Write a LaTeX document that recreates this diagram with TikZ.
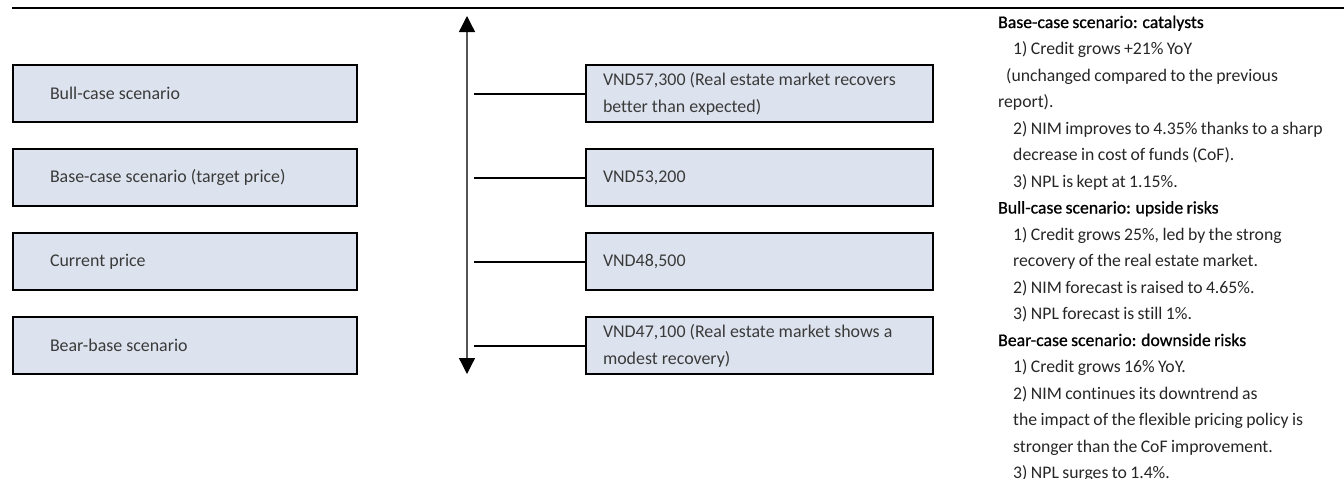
\documentclass[tikz,border=0pt]{standalone}
\usepackage{fontspec}
\setmainfont{Carlito}[Ligatures=NoCommon, WordSpace=0.85]
\newfontfamily\boxfont{Carlito}[Ligatures=NoCommon]
\newfontfamily\headfont{Carlito}[FakeBold=0.8, Ligatures=NoCommon, WordSpace=0.85]
\usetikzlibrary{arrows.meta}
\definecolor{boxfill}{RGB}{221,227,238}
\definecolor{boxtext}{RGB}{58,58,58}
\definecolor{axisgray}{RGB}{85,85,85}
\begin{document}
\begin{tikzpicture}[x=1pt,y=-1pt,
  scen/.style={draw=black, line width=2pt, fill=boxfill, text=boxtext,
    anchor=north west, minimum height=57pt, align=flush left, inner ysep=3pt,
    font=\boxfont\fontsize{17.9}{27}\selectfont},
  leftbox/.style={scen, text width=270pt, inner xsep=37pt},
  pricebox/.style={scen, text width=313pt, inner xsep=17pt},
  link/.style={line width=2pt, draw=black},
  axis/.style={line width=1.3pt, draw=axisgray,
    arrows={Triangle[length=16pt,width=16pt,black]-Triangle[length=16pt,width=16pt,black]}},
  colh/.style={anchor=base west, inner sep=0pt, text=black, font=\headfont\fontsize{17.7}{27}\selectfont},
  colb/.style={anchor=base west, inner sep=0pt, text=black!85, font=\fontsize{17.7}{27}\selectfont}]
\useasboundingbox (0,0) rectangle (1344,479);

% header rule
\coordinate (rl) at (12,8);
\coordinate (rr) at (1344,8);
\draw[line width=2.5pt] (rl) -- (rr);

% scenario labels
\node[leftbox] (bull) at (12,64)  {Bull-case scenario};
\node[leftbox] (base) at (12,148) {Base-case scenario (target price)};
\node[leftbox] (cur)  at (12,232) {Current price};
\node[leftbox] (bear) at (12,316) {Bear-base scenario};

% price axis
\coordinate (atop) at (467,16);
\coordinate (abot) at (467,374);
\draw[axis] (abot) -- (atop);

% prices
\node[pricebox] (pbull) at (585,64)  {VND57,300 (Real estate market recovers\\better than expected)};
\node[pricebox] (pbase) at (585,148) {VND53,200};
\node[pricebox] (pcur)  at (585,232) {VND48,500};
\node[pricebox] (pbear) at (585,316) {VND47,100 (Real estate market shows a\\modest recovery)};

\foreach \n in {bull,base,cur,bear}{
  \coordinate (c\n) at (474,0 |- p\n.west);
  \draw[link] (c\n) -- (p\n.west);
}

% scenario notes
\foreach \dx/\sty/\txt [count=\k from 0] in {
  0/h/{Base-case scenario: catalysts},
  15/b/{1) Credit grows +21\% YoY},
  8/b/{(unchanged compared to the previous},
  0/b/{report).},
  15/b/{2) NIM improves to 4.35\% thanks to a sharp},
  15/b/{decrease in cost of funds (CoF).},
  15/b/{3) NPL is kept at 1.15\%.},
  0/h/{Bull-case scenario: upside risks},
  15/b/{1) Credit grows 25\%, led by the strong},
  15/b/{recovery of the real estate market.},
  15/b/{2) NIM forecast is raised to 4.65\%.},
  15/b/{3) NPL forecast is still 1\%.},
  0/h/{Bear-case scenario: downside risks},
  15/b/{1) Credit grows 16\% YoY.},
  15/b/{2) NIM continues its downtrend as},
  15/b/{the impact of the flexible pricing policy is},
  15/b/{stronger than the CoF improvement.},
  15/b/{3) NPL surges to 1.4\%.}}{
  \node[col\sty] (note\k) at ({998+\dx},{28+26.5*\k}) {\txt};
}
\end{tikzpicture}
\end{document}
